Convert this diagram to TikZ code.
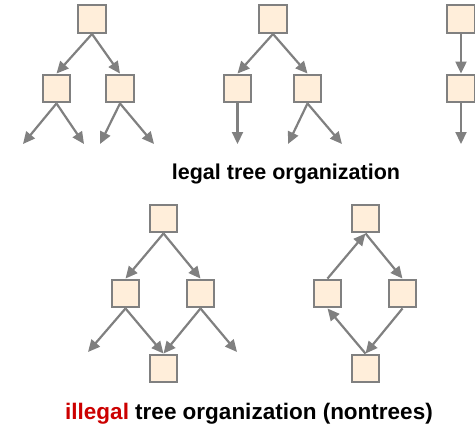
\documentclass[tikz,border=0pt]{standalone}
\usepackage{fontspec}
\setmainfont{Liberation Sans}
\usetikzlibrary{arrows.meta}
\definecolor{boxfill}{HTML}{FFEEDA}
\definecolor{linegray}{HTML}{808080}
\definecolor{badred}{HTML}{CC0000}
\tikzset{
  cell/.style={draw=linegray, fill=boxfill, line width=2.4pt, minimum size=27.5pt, inner sep=0pt},
  link/.style={draw=linegray, line width=2.2pt, -{Triangle[length=12pt,width=11pt]}},
  caption/.style={font=\fontsize{21.5}{25}\selectfont\bfseries, anchor=base, inner sep=0pt}
}
\begin{document}
\begin{tikzpicture}[x=1pt,y=-1pt]
      \useasboundingbox (0,0) rectangle (475,424);
      % legal trees
      \draw
        (92,19) node[cell] (a0){}
        (56.5,88.5) node[cell] (a1){}
        (120,88.5) node[cell] (a2){}
        (273,19) node[cell] (b0){}
        (237.5,88.5) node[cell] (b1){}
        (307.5,88.5) node[cell] (b2){}
        (461,19) node[cell] (c0){}
        (461,88.5) node[cell] (c1){};
      \coordinate (a1l) at (23,144);
      \coordinate (a1r) at (84,144);
      \coordinate (a2l) at (100,144);
      \coordinate (a2r) at (154,144);
      \coordinate (b1d) at (237.5,144);
      \coordinate (b2l) at (288,144);
      \coordinate (b2r) at (342,144);
      \coordinate (c1d) at (461,144);
      \begin{scope}[link]
        \draw (a0.south) to (a1.north);
        \draw (a0.south) to (a2.north);
        \draw (a1.south) to (a1l);
        \draw (a1.south) to (a1r);
        \draw (a2.south) to (a2l);
        \draw (a2.south) to (a2r);
        \draw (b0.south) to (b1.north);
        \draw (b0.south) to (b2.north);
        \draw (b1.south) to (b1d);
        \draw (b2.south) to (b2l);
        \draw (b2.south) to (b2r);
        \draw (c0.south) to (c1.north);
        \draw (c1.south) to (c1d);
      \end{scope}
      \node[caption] (legal) at (286,179) {legal tree organization};
      % illegal: shared child
      \draw
        (163.5,218.5) node[cell] (d0){}
        (125.5,293.5) node[cell] (d1){}
        (200.5,293.5) node[cell] (d2){}
        (163.5,368.5) node[cell] (d3){};
      \coordinate (d1l) at (88,352);
      \coordinate (d2r) at (237,352);
      \begin{scope}[link]
        \draw (d0.south) to (d1.north);
        \draw (d0.south) to (d2.north);
        \draw (d1.south) to (d1l);
        \draw (d1.south) to (d3.north);
        \draw (d2.south) to (d3.north);
        \draw (d2.south) to (d2r);
      \end{scope}
      % illegal: cycle
      \draw
        (365.5,218.5) node[cell] (e0){}
        (327.5,293.5) node[cell] (e1){}
        (402.5,293.5) node[cell] (e2){}
        (365.5,368.5) node[cell] (e3){};
      \begin{scope}[link]
        \draw (e1.north) to (e0.south);
        \draw (e0.south) to (e2.north);
        \draw (e2.south) to (e3.north);
        \draw (e3.north) to (e1.south);
      \end{scope}
      \node[caption, font=\fontsize{22.5}{26}\selectfont\bfseries] (illegal) at (249,419) {\textcolor{badred}{illegal} tree organization (nontrees)};
    \end{tikzpicture}
\end{document}
